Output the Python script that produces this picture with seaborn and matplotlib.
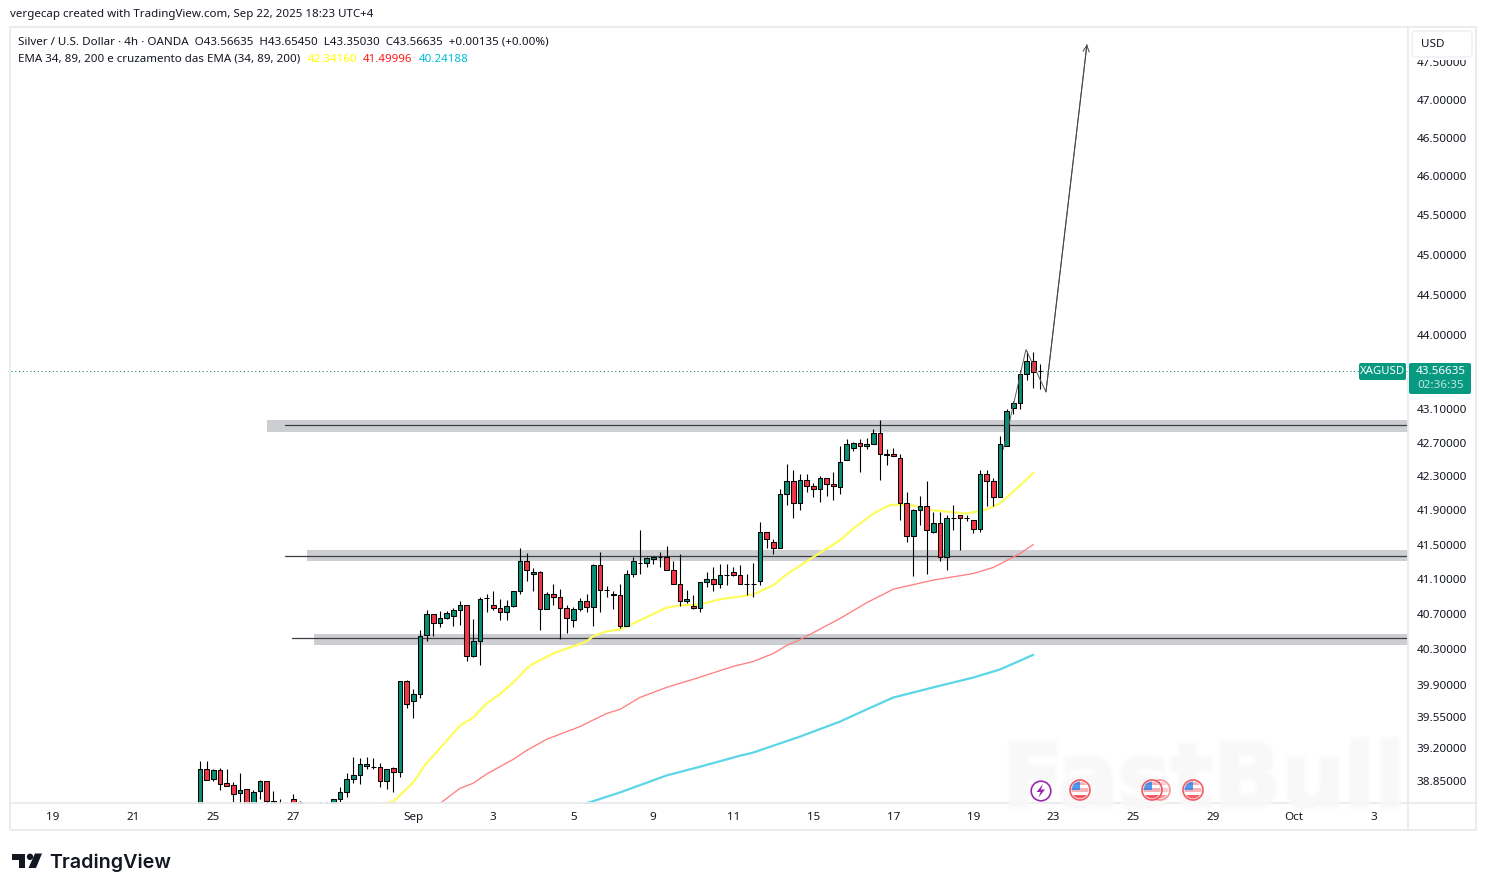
import matplotlib
matplotlib.use("Agg")
import matplotlib.pyplot as plt
import matplotlib.patheffects as pe
from matplotlib.patches import Circle, FancyBboxPatch, Polygon, Rectangle
from matplotlib.ticker import NullLocator
import pandas as pd
import seaborn as sns

# 4h candles
opens = [38.50, 38.975, 38.87, 38.96, 38.82, 38.80, 38.71, 38.76, 38.50, 38.74,
         38.84, 38.63, 38.52, 38.50, 38.655, 38.62, 38.52, 38.50, 38.54, 38.52,
         38.56, 38.645, 38.72, 38.87, 38.905, 39.01, 39.00, 39.00, 38.85, 38.99,
         38.94, 39.95, 39.72, 39.80, 40.46, 40.70, 40.595, 40.66, 40.675, 40.75,
         40.80, 40.23, 40.39, 40.88, 40.81, 40.765, 40.72, 40.79, 40.96, 41.305,
         41.155, 41.18, 40.755, 40.935, 40.90, 40.765, 40.63, 40.755, 40.855, 40.78,
         41.26, 40.98, 40.935, 40.915, 40.57, 41.165, 41.29, 41.29, 41.33, 41.36,
         41.36, 41.21, 41.05, 40.845, 40.79, 40.765, 41.065, 41.10, 41.04, 41.145,
         41.18, 41.145, 41.05, 41.05, 41.075, 41.65, 41.535, 41.465, 42.085, 42.24,
         41.99, 42.25, 42.18, 42.155, 42.285, 42.205, 42.17, 42.49, 42.64, 42.69,
         42.655, 42.68, 42.82, 42.57, 42.57, 42.52, 41.99, 41.595, 41.90, 41.955,
         41.65, 41.745, 41.35, 41.815, 41.84, 41.815, 41.79, 41.685, 42.33, 42.24,
         42.06, 42.665, 43.12, 43.17, 43.53, 43.69, 43.56635]
highs = [39.06, 39.06, 38.97, 38.99, 38.97, 38.83, 38.93, 38.76, 38.75, 38.86,
         38.84, 38.74, 38.645, 38.61, 38.70, 38.63, 38.57, 38.58, 38.62, 38.62,
         38.655, 38.775, 38.93, 39.11, 39.10, 39.11, 39.10, 39.04, 38.98, 39.00,
         39.95, 39.96, 39.86, 40.52, 40.75, 40.70, 40.74, 40.74, 40.765, 40.845,
         40.80, 40.64, 40.90, 40.925, 40.97, 40.87, 40.86, 40.97, 41.465, 41.40,
         41.225, 41.19, 40.95, 41.04, 40.99, 40.80, 40.78, 40.88, 40.925, 41.28,
         41.41, 41.02, 40.96, 41.05, 41.20, 41.35, 41.665, 41.36, 41.36, 41.41,
         41.48, 41.315, 41.385, 40.98, 40.915, 41.065, 41.18, 41.235, 41.28, 41.27,
         41.235, 41.26, 41.155, 41.29, 41.76, 41.65, 41.57, 42.145, 42.45, 42.37,
         42.33, 42.33, 42.215, 42.30, 42.285, 42.345, 42.665, 42.74, 42.71, 42.74,
         42.75, 42.86, 42.965, 42.62, 42.63, 42.57, 42.11, 41.91, 42.07, 42.24,
         41.885, 41.875, 41.85, 41.965, 41.85, 41.85, 41.79, 42.37, 42.37, 42.285,
         42.785, 43.10, 43.195, 43.58, 43.81, 43.79, 43.6545]
lows = [38.45, 38.86, 38.85, 38.75, 38.79, 38.62, 38.55, 38.50, 38.48, 38.655,
        38.59, 38.50, 38.47, 38.46, 38.58, 38.50, 38.45, 38.44, 38.48, 38.46,
        38.52, 38.62, 38.67, 38.82, 38.81, 38.97, 38.97, 38.775, 38.76, 38.73,
        38.89, 39.65, 39.54, 39.76, 40.39, 40.45, 40.55, 40.65, 40.56, 40.58,
        40.165, 40.22, 40.13, 40.72, 40.75, 40.63, 40.63, 40.78, 40.935, 41.075,
        40.97, 40.515, 40.755, 40.81, 40.415, 40.49, 40.55, 40.74, 40.72, 40.56,
        40.73, 40.89, 40.755, 40.54, 40.57, 41.12, 41.165, 41.235, 41.28, 41.245,
        41.20, 41.04, 40.79, 40.83, 40.755, 40.73, 41.005, 40.97, 40.995, 41.03,
        41.135, 41.04, 40.915, 40.90, 41.03, 41.455, 41.395, 41.465, 41.965, 41.815,
        41.90, 42.11, 42.05, 42.00, 42.07, 42.015, 42.095, 42.49, 42.605, 42.345,
        42.62, 42.68, 42.26, 42.43, 42.535, 41.79, 41.535, 41.135, 41.725, 41.155,
        41.63, 41.305, 41.20, 41.665, 41.44, 41.77, 41.64, 41.65, 41.955, 41.955,
        42.05, 42.655, 43.04, 43.10, 43.46, 43.36, 43.3503]
closes = [38.97, 38.86, 38.96, 38.81, 38.79, 38.70, 38.75, 38.52, 38.73, 38.84,
          38.63, 38.55, 38.50, 38.52, 38.60, 38.54, 38.50, 38.54, 38.52, 38.56,
          38.645, 38.72, 38.87, 38.905, 39.025, 39.025, 39.00, 38.85, 38.98, 38.94,
          39.95, 39.685, 39.80, 40.455, 40.70, 40.595, 40.66, 40.71, 40.75, 40.80,
          40.23, 40.39, 40.87, 40.88, 40.765, 40.72, 40.79, 40.96, 41.305, 41.21,
          41.18, 40.755, 40.935, 40.90, 40.765, 40.66, 40.755, 40.855, 40.78, 41.26,
          40.98, 40.98, 40.915, 40.57, 41.165, 41.305, 41.29, 41.34, 41.36, 41.36,
          41.21, 41.05, 40.845, 40.87, 40.765, 41.065, 41.10, 41.04, 41.145, 41.145,
          41.145, 41.04, 41.05, 41.05, 41.65, 41.56, 41.455, 42.085, 42.24, 41.99,
          42.25, 42.18, 42.155, 42.275, 42.205, 42.18, 42.475, 42.68, 42.69, 42.655,
          42.68, 42.82, 42.57, 42.55, 42.535, 41.99, 41.595, 41.90, 41.945, 41.665,
          41.745, 41.35, 41.815, 41.815, 41.805, 41.815, 41.685, 42.33, 42.24, 42.06,
          42.68, 43.085, 43.17, 43.53, 43.69, 43.555, 43.56635]

ema34_bars = [27, 29, 32, 34, 36, 39, 41, 43, 45, 47, 49, 50, 53, 58, 59, 61, 63, 66, 70, 72,
              75, 78, 80, 83, 86, 88, 91, 96, 98, 101, 103, 104, 107, 110, 115, 118, 120, 123, 125]
ema34 = [38.59, 38.62, 38.83, 39.04, 39.20, 39.45, 39.54, 39.695, 39.80, 39.93, 40.085, 40.14,
         40.255, 40.39, 40.45, 40.505, 40.525, 40.63, 40.775, 40.80, 40.81, 40.87, 40.89, 40.925,
         41.03, 41.155, 41.305, 41.55, 41.685, 41.86, 41.945, 41.965, 41.955, 41.90, 41.86, 41.91,
         41.98, 42.19, 42.34]
ema89_bars = [36, 39, 41, 43, 47, 49, 52, 57, 61, 63, 66, 70, 74, 80, 83, 86, 88, 90, 96, 100,
              104, 110, 116, 119, 123, 125]
ema89 = [38.60, 38.765, 38.82, 38.92, 39.08, 39.177, 39.30, 39.44, 39.585, 39.63, 39.763, 39.875,
         39.965, 40.11, 40.165, 40.255, 40.345, 40.41, 40.65, 40.83, 40.985, 41.09, 41.165, 41.235,
         41.395, 41.50]
ema200_bars = [57, 63, 70, 75, 81, 83, 86, 90, 96, 100, 104, 110, 116, 120, 125]
ema200 = [38.58, 38.72, 38.905, 39.00, 39.12, 39.155, 39.23, 39.33, 39.495, 39.63, 39.762, 39.875,
          39.985, 40.075, 40.24]

# support zones: low edge, high edge, centre line
zone_low = [42.83, 41.305, 40.355]
zone_high = [42.966, 41.431, 40.48]
zone_line = [42.906, 41.373, 40.425]
zone_start = [10.0, 16.0, 17.1]
line_start = [12.75, 12.75, 13.8]

# hand drawn projection
path_bars = [120.5, 123.9, 126.9, 133.05]
path_prices = [42.62, 43.826, 43.31, 47.73]

last_price = 43.56635

date_ticks = [-22, -10, 2, 14, 32, 44, 56, 68, 80, 92, 104, 116, 128, 140, 152, 164, 176]
date_labels = ["19", "21", "25", "27", "Sep", "3", "5", "9", "11", "15", "17", "19",
               "23", "25", "29", "Oct", "3"]
price_ticks = [47.5, 47.0, 46.5, 46.0, 45.5, 45.0, 44.5, 44.0, 43.1, 42.7, 42.3, 41.9,
               41.5, 41.1, 40.7, 40.3, 39.9, 39.55, 39.2, 38.85]

UP = "#0b8c74"
DOWN = "#f23645"
TEAL = "#089981"
TXT = "#131722"
BORDER = "#e9eaec"

sns.set_theme(style="white")
plt.rcParams["font.family"] = ["Noto Sans", "DejaVu Sans"]

W, H = 1486, 891
fig = plt.figure(figsize=(W / 100, H / 100), dpi=100, facecolor="white")
ax = fig.add_axes([10.5 / W, 1 - 803.5 / H, (1408 - 10.5) / W, (803.5 - 27.5) / H])

df = pd.DataFrame({"open": opens, "high": highs, "low": lows, "close": closes})
df["bar"] = range(len(df))
df["color"] = [UP if c >= o else DOWN for o, c in zip(df["open"], df["close"])]

ax.set_yscale("log")
ax.set_xlim(-28.4, 181.2)
ax.set_ylim(38.601, 47.956)

# zones under the candles
for lo, hi, mid, zs, ls in zip(zone_low, zone_high, zone_line, zone_start, line_start):
    ax.add_patch(Rectangle((zs, lo), 181.2 - zs, hi - lo, facecolor="#cdced2", edgecolor="none", zorder=1))
    ax.plot([ls, 181.2], [mid, mid], color="#3c3d42", lw=0.9, zorder=1.5)

ax.axhline(last_price, color="#0a7d69", lw=0.75, ls=(0, (1, 2.6)), zorder=1.2)

sns.lineplot(x=ema34_bars, y=ema34, ax=ax, color="#fdfd5e", linewidth=1.6, zorder=2, estimator=None)
sns.lineplot(x=ema89_bars, y=ema89, ax=ax, color="#ff8080", linewidth=0.95, zorder=2, estimator=None)
sns.lineplot(x=ema200_bars, y=ema200, ax=ax, color="#5ad6e6", linewidth=1.6, zorder=2, estimator=None)

ax.vlines(df["bar"], df["low"], df["high"], color="black", lw=0.8, zorder=3)
body_low = df[["open", "close"]].min(axis=1)
body_h = (df["open"] - df["close"]).abs()
ax.bar(df["bar"], body_h, bottom=body_low, width=0.7, color=df["color"], edgecolor="black",
       linewidth=0.75, zorder=4)

sns.lineplot(x=path_bars, y=path_prices, ax=ax, color="#606167", linewidth=0.72, zorder=5,
             estimator=None, sort=False)
ax.annotate("", xy=(path_bars[-1], path_prices[-1]), xytext=(path_bars[-2], path_prices[-2]),
            arrowprops=dict(arrowstyle="->", color="#44454a", lw=0.72, shrinkA=0, shrinkB=0,
                            mutation_scale=11), zorder=5)

for s in ax.spines.values():
    s.set_visible(False)
ax.yaxis.tick_right()
ax.yaxis.set_minor_locator(NullLocator())
ax.set_yticks(price_ticks)
ax.set_yticklabels([f"{p:.5f}" for p in price_ticks])
ax.set_xticks(date_ticks)
ax.set_xticklabels(date_labels)
ax.tick_params(axis="y", length=0, pad=6.3, labelsize=8.4, colors=TXT)
ax.tick_params(axis="x", length=0, pad=6.2, labelsize=8.4, colors=TXT)
ax.grid(False)

# overlay in pixel coordinates for the screenshot furniture
ov = fig.add_axes([0, 0, 1, 1], zorder=10)
ov.set_xlim(0, W)
ov.set_ylim(H, 0)
ov.axis("off")
ov.patch.set_alpha(0)

ov.plot([10, 1476, 1476, 10, 10], [27, 27, 830, 830, 27], color=BORDER, lw=1.3)
ov.plot([1408, 1408], [27, 830], color=BORDER, lw=1.3)
ov.plot([10, 1476], [803, 803], color=BORDER, lw=1.3)

# USD box hides the top half of the highest price label
ov.add_patch(Rectangle((1409, 28), 66, 32, facecolor="white", edgecolor="none"))
ov.add_patch(FancyBboxPatch((1412, 31), 60, 26, boxstyle="round,pad=0,rounding_size=4",
                            facecolor="white", edgecolor="#eeeff1", lw=1))
ov.text(1421, 44.5, "USD", fontsize=8.4, color=TXT, va="center")

ov.text(10, 15, "vergecap created with TradingView.com, Sep 22, 2025 18:23 UTC+4", fontsize=8.3,
        color=TXT, va="center")
ov.text(18, 42, "Silver / U.S. Dollar · 4h · OANDA  O43.56635  H43.65450  L43.35030  C43.56635  +0.00135 (+0.00%)",
        fontsize=8.35, color=TXT, va="center")
ov.text(18, 59, "EMA 34, 89, 200 e cruzamento das EMA (34, 89, 200)", fontsize=8.3, color=TXT, va="center")
ov.text(308, 59, "42.34160", fontsize=8.3, color="#ffff00", va="center")
ov.text(363, 59, "41.49996", fontsize=8.3, color="#ff1a1a", va="center")
ov.text(419, 59, "40.24188", fontsize=8.3, color="#00bcd4", va="center")

# last price labels
ov.add_patch(FancyBboxPatch((1359, 363), 47, 17, boxstyle="round,pad=0,rounding_size=2",
                            facecolor=TEAL, edgecolor="none"))
ov.text(1382.5, 371.5, "XAGUSD", fontsize=8.2, color="white", ha="center", va="center", weight="medium")
ov.add_patch(FancyBboxPatch((1409, 363), 62, 31, boxstyle="round,pad=0,rounding_size=2",
                            facecolor=TEAL, edgecolor="none"))
ov.text(1441, 371.5, "43.56635", fontsize=8.4, color="white", ha="center", va="center", weight="semibold")
ov.text(1441, 385.5, "02:36:35", fontsize=8.4, color="#bfe6de", ha="center", va="center")

# pale watermark, under the event markers
wm = ov.text(1204, 807, "FastBull", fontsize=64, family="DejaVu Sans", weight="bold", color="#f8f8f8", alpha=0.55,
             ha="center", va="baseline", zorder=3)
wm.set_path_effects([pe.withStroke(linewidth=5, foreground="#fafafa", alpha=0.5), pe.Normal()])


# event markers on the time axis
def flag(cx, cy, alpha=0.8):
    ov.add_patch(Circle((cx, cy), 10, facecolor="white", edgecolor="#f0303c", lw=1.2, alpha=alpha, zorder=4))
    clip = Circle((cx, cy), 8.5, transform=ov.transData)
    for k, col in enumerate(["#f7a0a6", "white", "#f7a0a6", "white", "#f23645"]):
        r = ov.add_patch(Rectangle((cx - 9, cy - 8.5 + k * 3.4), 18, 3.4, facecolor=col, edgecolor="none",
                                   alpha=alpha, zorder=4))
        r.set_clip_path(clip)
    r = ov.add_patch(Rectangle((cx - 9, cy - 9), 9, 9, facecolor="#2a80e8", edgecolor="none", alpha=alpha, zorder=4))
    r.set_clip_path(clip)


ov.add_patch(Circle((1041, 791), 9.8, facecolor="white", edgecolor="#9c27b0", lw=1.2, zorder=4))
ov.add_patch(Polygon([(1043, 784), (1036.5, 792), (1040.5, 792), (1038.5, 797.5), (1045, 789.5), (1041, 789.5)],
                     facecolor="#9c27b0", edgecolor="none", zorder=4))
flag(1160, 790, 0.5)
flag(1152, 790)
flag(1080, 790)
flag(1193, 790)

# TradingView logo
ov.add_patch(Polygon([(12, 853.5), (25, 853.5), (25, 868), (18.5, 868), (18.5, 860), (12, 860)],
                     facecolor=TXT, edgecolor="none"))
ov.add_patch(Circle((30, 856.8), 3.2, facecolor=TXT, edgecolor="none"))
ov.add_patch(Polygon([(35, 853.5), (42, 853.5), (36, 868), (28.5, 868)], facecolor=TXT, edgecolor="none"))
ov.text(49, 867.5, "TradingView", fontsize=14.2, family="Inter", weight="semibold", color=TXT, va="baseline")

fig.savefig("out.png", dpi=100)
